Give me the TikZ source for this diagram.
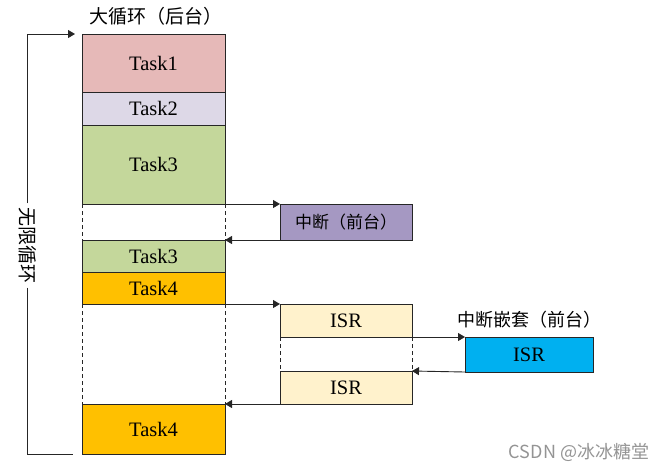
\documentclass[tikz,border=0pt]{standalone}
\usepackage{fontspec}
\setmainfont{Liberation Serif}
\newfontfamily\cjk{Noto Sans CJK SC}
\usetikzlibrary{arrows.meta}
\definecolor{cA}{HTML}{E6B9B8}
\definecolor{cB}{HTML}{DDD8E7}
\definecolor{cC}{HTML}{C4D79B}
\definecolor{cD}{HTML}{FFC000}
\definecolor{cE}{HTML}{A598C2}
\definecolor{cF}{HTML}{FFF2CC}
\definecolor{cG}{HTML}{00B0F0}
\definecolor{edge}{HTML}{262626}
\tikzset{
  bx/.style={draw=edge, line width=0.9pt, anchor=north west, inner sep=0pt, outer sep=0pt,
    font=\fontsize{20.5}{20.5}\selectfont},
  tk/.style={bx, minimum width=143pt},
  fg/.style={bx, minimum width=132pt},
  arr/.style={draw=edge, line width=0.9pt, -{Triangle[length=7pt,width=8pt]}},
  dsh/.style={draw=edge, line width=0.9pt, dashed, dash pattern=on 4pt off 3pt},
  lbl/.style={font=\cjk\fontsize{18}{18}\selectfont, inner sep=0pt},
}
\begin{document}
\begin{tikzpicture}[x=1pt,y=-1pt]
\useasboundingbox (0,0) rectangle (671,467);
% main loop column
\node[tk, fill=cA, minimum height=58pt] (t1) at (82,34) {Task1};
\node[tk, fill=cB, minimum height=33pt] (t2) at (82,92) {Task2};
\node[tk, fill=cC, minimum height=79pt] (t3) at (82,125) {Task3};
\node[tk, fill=cC, minimum height=32pt] (t3b) at (82,240) {Task3};
\node[tk, fill=cD, minimum height=32pt] (t4) at (82,272) {Task4};
\node[tk, fill=cD, minimum height=50pt] (t4b) at (82,404) {Task4};
% foreground
\node[fg, fill=cE, minimum height=36pt, font=\cjk\fontsize{17}{17}\selectfont] (int) at (280,204) {中断（前台）};
\node[fg, fill=cF, minimum height=33pt] (isr1) at (280,304) {ISR};
\node[fg, fill=cF, minimum height=33pt] (isr2) at (280,371) {ISR};
\node[bx, fill=cG, minimum width=128pt, minimum height=35pt] (nest) at (465,337) {ISR};
% labels
\node[lbl, font=\cjk\fontsize{19}{19}\selectfont] (ttl) at (156,16) {大循环（后台）};
\node[lbl] (ttl2) at (529,320) {中断嵌套（前台）};
\node[lbl, font=\cjk\fontsize{19}{19}\selectfont, rotate=-90, inner sep=4pt] (loop) at (27.5,245.5) {无限循环};
\node[font=\cjk\fontsize{18}{18}\selectfont, text=black!42, inner sep=0pt] (wm) at (579,452) {CSDN @冰冰糖堂};
\coordinate (lb) at (73,454);
% loop bracket
\draw[arr, shorten >=7pt] (loop.west) |- (t1.north west);
\draw[draw=edge, line width=0.9pt] (loop.east) |- (lb);
% dashed continuations
\draw[dsh] (t3.south west) -- (t3b.north west);
\draw[dsh] (t3.south east) -- (t3b.north east);
\draw[dsh] (t4.south west) -- (t4b.north west);
\draw[dsh] (t4.south east) -- (t4b.north east);
\draw[dsh] (isr1.south west) -- (isr2.north west);
\draw[dsh] (isr1.south east) -- (isr2.north east);
% arrows
\draw[arr] (t3.south east) -- (int.north west);
\draw[arr] (int.south west) -- (t3b.north east);
\draw[arr] (t4.south east) -- (isr1.north west);
\draw[arr] (isr1.south east) -- (nest.north west);
\draw[arr] (nest.south west) -- (isr2.north east);
\draw[arr] (isr2.south west) -- (t4b.north east);
\end{tikzpicture}
\end{document}
